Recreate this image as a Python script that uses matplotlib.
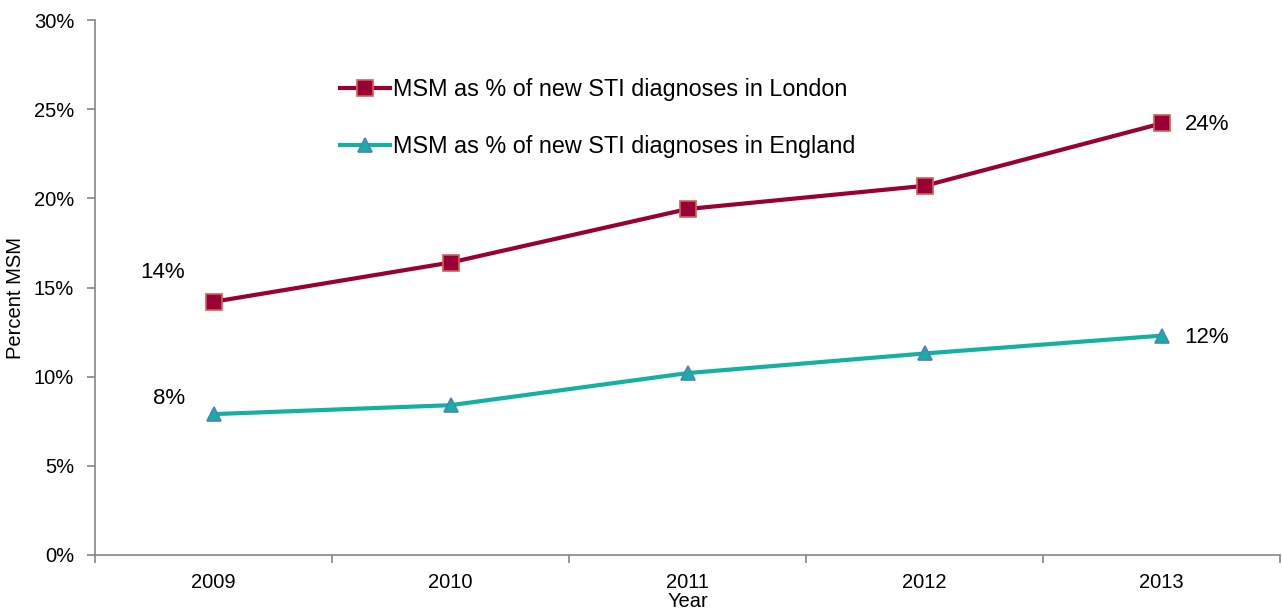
import matplotlib
matplotlib.use("Agg")
import matplotlib.pyplot as plt
from matplotlib.ticker import FixedLocator, NullFormatter

plt.rcParams['font.family'] = ['Liberation Sans', 'DejaVu Sans']

years = ["2009", "2010", "2011", "2012", "2013"]
london = [14.2, 16.4, 19.4, 20.7, 24.2]
england = [7.9, 8.4, 10.2, 11.3, 12.3]
london_label = "MSM as % of new STI diagnoses in London"
england_label = "MSM as % of new STI diagnoses in England"
yticks = [0, 5, 10, 15, 20, 25, 30]
ytick_labels = ["0%", "5%", "10%", "15%", "20%", "25%", "30%"]

fig = plt.figure(figsize=(12.82, 6.12), dpi=100)
ax = fig.add_axes([95/1282, 57/612, 1185/1282, 535/612])

x = list(range(len(years)))
l1, = ax.plot(x, london, color="#990033", lw=3, marker="s", markersize=11.5,
              markerfacecolor="#990033", markeredgecolor="#D0605A", markeredgewidth=1.2,
              label=london_label)
l2, = ax.plot(x, england, color="#14B1A2", lw=3, marker="^", markersize=9.5,
              markerfacecolor="#14B1A2", markeredgecolor="#4F81BD", markeredgewidth=1.2,
              label=england_label)

ax.set_xlim(-0.5, len(years) - 0.5)
ax.set_ylim(0, 30)
ax.set_yticks(yticks)
ax.set_yticklabels(ytick_labels, fontsize=14.5)
ax.set_xticks(x)
ax.set_xticklabels(years, fontsize=14.5)
ax.tick_params(axis='x', which='major', length=0, pad=13)
ax.xaxis.set_minor_locator(FixedLocator([i + 0.5 for i in range(-1, len(years))]))
ax.xaxis.set_minor_formatter(NullFormatter())
ax.tick_params(axis='x', which='minor', length=6, color="#868686", width=1.2)
ax.tick_params(axis='y', length=6, color="#868686", width=1.2, pad=9)

for s in ["top", "right"]:
    ax.spines[s].set_visible(False)
for s in ["left", "bottom"]:
    ax.spines[s].set_color("#868686")
    ax.spines[s].set_linewidth(1.2)

ax.set_xlabel("Year", fontsize=14.5)
ax.xaxis.set_label_coords(0.5, -0.069)
ax.set_ylabel("Percent MSM", fontsize=14.5)
ax.yaxis.set_label_coords(-0.059, 0.48)

# data labels
ax.annotate(f"{london[0]:.0f}%", (x[0], london[0]), xytext=(-37, 21), textcoords="offset points",
            fontsize=16, ha="center", va="center")
ax.annotate(f"{england[0]:.0f}%", (x[0], england[0]), xytext=(-32, 11), textcoords="offset points",
            fontsize=16, ha="center", va="center")
ax.annotate(f"{london[-1]:.0f}%", (x[-1], london[-1]), xytext=(33, -0.5), textcoords="offset points",
            fontsize=16, ha="center", va="center")
ax.annotate(f"{england[-1]:.0f}%", (x[-1], england[-1]), xytext=(32.5, -1), textcoords="offset points",
            fontsize=16, ha="center", va="center")

ax.legend(handles=[l1, l2], loc="upper left", bbox_to_anchor=(0.1894, 0.93), frameon=False,
          fontsize=16.8, labelspacing=1.45, handlelength=2.14, handletextpad=0.13)

fig.savefig("out.png", dpi=100)
